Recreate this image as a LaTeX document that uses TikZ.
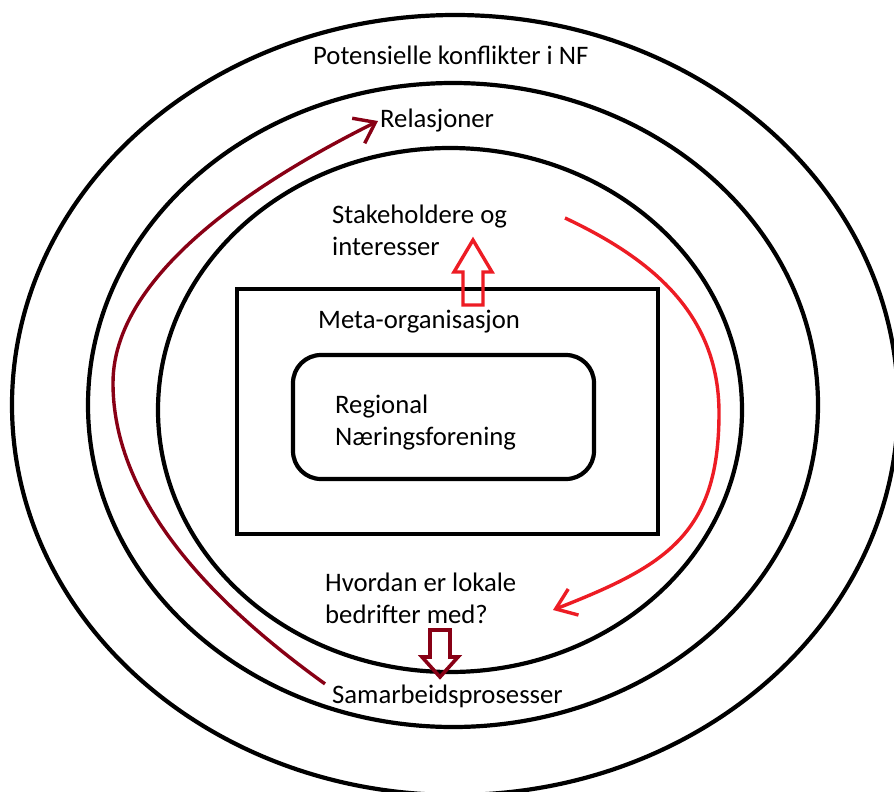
\documentclass[tikz,border=0pt]{standalone}
\usepackage{fontspec}
\setmainfont{Carlito}
\usetikzlibrary{arrows.meta}

\definecolor{paintred}{HTML}{ED1C24}
\definecolor{paintmaroon}{HTML}{880015}

\tikzset{
	ring/.style={draw=black, line width=4.2pt},
	box/.style={draw=black, line width=4.2pt},
	label/.style={anchor=base west, inner sep=0pt, align=left, font=\fontsize{26.7}{32}\selectfont},
	flowred/.style={draw=paintred, line width=3.4pt, -{Straight Barb[length=19pt,width=28pt]}},
	flowmaroon/.style={draw=paintmaroon, line width=3.4pt, -{Straight Barb[length=19pt,width=28pt]}},
	hollowred/.style={draw=paintred, line width=3.4pt, line join=miter},
	hollowmaroon/.style={draw=paintmaroon, line width=3.6pt, line join=miter}
}

\begin{document}
\begin{tikzpicture}[x=1pt,y=-1pt]
		\useasboundingbox[fill=white] (0,0) rectangle (894,792);
		\draw[ring] (455,405) ellipse [x radius=443, y radius=390];
		\draw[ring] (453,405) ellipse [x radius=365, y radius=322];
		\draw[ring] (450,410) ellipse [x radius=292, y radius=262];
		\draw[box] (237,289) rectangle (658,534);
		\draw[box, rounded corners=28pt] (293,355) rectangle (594,479);

		\node[label] (konflikt) at (313,65) {Potensielle konflikter i NF};
		\node[label] (relasjon) at (380,127) {Relasjoner};
		\node[label] (stake) at (332,255) {Stakeholdere og\\interesser};
		\node[label] (meta) at (318,328) {Meta-organisasjon};
		\node[label] (regional) at (335,445) {Regional\\Næringsforening};
		\node[label] (lokale) at (325,623) {Hvordan er lokale\\bedrifter med?};
		\node[label] (samarbeid) at (332,703) {Samarbeidsprosesser};

		\coordinate (redstart) at (565,218);
		\coordinate (redend) at (553,610);

		\draw[flowred] (redstart) .. controls (650,258) and (719,313) .. (719,413)
			.. controls (719,535) and (665,566) .. (redend);
		\draw[flowmaroon] ([shift={(-7pt,12pt)}]samarbeid.west) .. controls (235,619) and (113,513) .. (113,383)
			.. controls (113,263) and (290,165) .. ([shift={(-2pt,-1pt)}]relasjon.west);

		\draw[hollowred] (463,305) -- (463,272) -- (454,272) -- (473,240) -- (492,272) -- (483,272) -- (483,305) -- cycle;
		\draw[hollowmaroon] (430,630) -- (430,657) -- (422,657) -- (440,677) -- (458,657) -- (450,657) -- (450,630) -- cycle;
\end{tikzpicture}
\end{document}
